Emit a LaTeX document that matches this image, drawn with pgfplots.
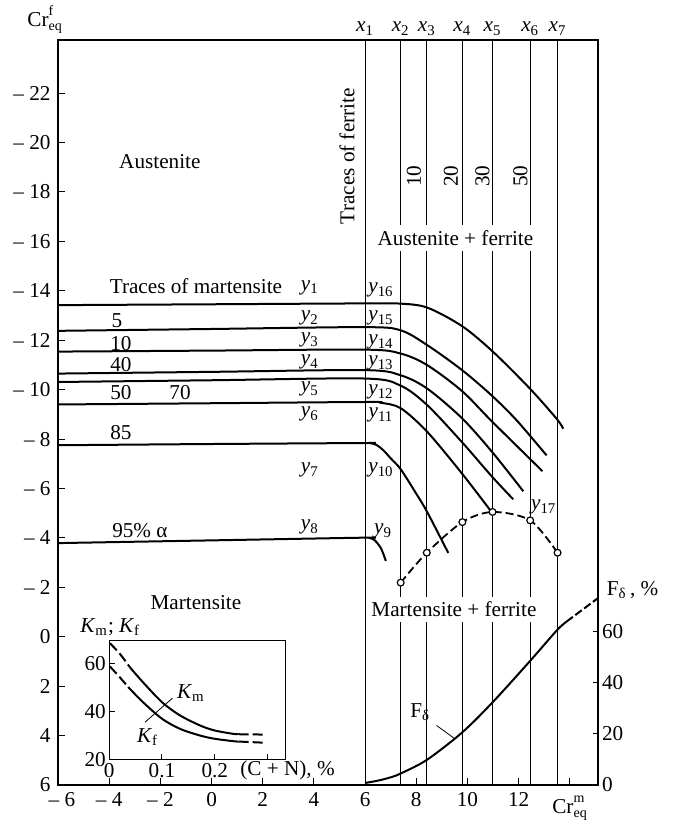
\documentclass[border=0pt]{standalone}
\usepackage{fontspec}
\setmainfont{Liberation Serif}
\usepackage{pgfplots}
\pgfplotsset{compat=1.18}
\newcommand{\mn}{\textendash\ }
\newcommand{\iy}[1]{\textit{y}\textsubscript{#1}}
\newcommand{\ix}[1]{\textit{x}\textsubscript{#1}}
\newcommand{\Creq}[1]{Cr\rlap{\raisebox{5.6pt}{\scriptsize #1}}\raisebox{-2.2pt}{\scriptsize eq}}
\begin{document}
\fontsize{10.6pt}{12.7pt}\selectfont
\begin{tikzpicture}
\useasboundingbox (-29pt,-19.5pt) rectangle (310.5pt,392.5pt);
\begin{axis}[
  at={(0pt,0pt)}, anchor=south west,
  scale only axis, width=270pt, height=372.5pt,
  xmin=-6, xmax=15.1, ymin=-24.15, ymax=6, y dir=reverse,
  axis line style={line width=0.6pt},
  tick align=inside, xtick pos=bottom, ytick pos=left,
  major tick length=3.6pt, tick style={black, line width=0.5pt},
  xtick={-6,-4,-2,0,2,4,6,8,10,12},
  xticklabels={\hspace{4pt}\mn6,\mn4,\mn2,0,2,4,6,8,10,12},
  extra x ticks={14}, extra x tick labels={},
  ytick={-22,-20,-18,-16,-14,-12,-10,-8,-6,-4,-2,0,2,4,6},
  yticklabels={\mn22,\mn20,\mn18,\mn16,\mn14,\mn12,\mn10,\mn8,\mn6,\mn4,\mn2,0,2,4,6},
  clip=false,
]
% vertical lines x1..x7
\addplot[black, line width=0.45pt] coordinates {(6,-24.15) (6,6)};
\addplot[black, line width=0.45pt] coordinates {(7.39,-24.15) (7.39,6)};
\addplot[black, line width=0.45pt] coordinates {(8.41,-24.15) (8.41,6)};
\addplot[black, line width=0.45pt] coordinates {(9.80,-24.15) (9.80,6)};
\addplot[black, line width=0.45pt] coordinates {(10.98,-24.15) (10.98,6)};
\addplot[black, line width=0.45pt] coordinates {(12.45,-24.15) (12.45,6)};
\addplot[black, line width=0.45pt] coordinates {(13.52,-24.15) (13.52,6)};
% curves
\addplot[black, line width=1pt, smooth] coordinates {(-6,-13.42) (0,-13.455) (5.99,-13.49) (7.39,-13.48) (8.43,-13.32) (9.79,-12.57) (11.00,-11.53) (12.46,-10.02) (13.50,-8.80) (13.74,-8.42)};
\addplot[black, line width=1pt, smooth] coordinates {(-6,-12.38) (0,-12.455) (5.99,-12.53) (7.39,-12.40) (8.43,-11.80) (9.79,-10.79) (10.94,-9.77) (11.92,-8.76) (13.09,-7.34)};
\addplot[black, line width=1pt, smooth] coordinates {(-6,-11.54) (0,-11.58) (5.99,-11.62) (7.39,-11.46) (8.43,-10.99) (9.79,-9.94) (10.95,-8.72) (12.93,-6.70)};
\addplot[black, line width=1pt, smooth] coordinates {(-6,-10.65) (0,-10.72) (5.99,-10.79) (7.39,-10.58) (8.43,-10.04) (9.79,-8.84) (10.97,-7.47) (12.18,-5.89)};
\addplot[black, line width=1pt, smooth] coordinates {(-6,-10.31) (0,-10.38) (5.99,-10.45) (7.39,-10.16) (8.43,-9.37) (9.79,-7.87) (10.95,-6.49) (11.79,-5.56)};
\addplot[black, line width=1pt, smooth] coordinates {(-6,-9.40) (0,-9.45) (5.99,-9.50) (6.6,-9.47) (7.39,-9.25) (8.43,-8.29) (9.79,-6.60) (10.94,-5.05)};
\addplot[black, line width=1pt, smooth] coordinates {(-6,-7.75) (0,-7.80) (5.99,-7.84) (6.2,-7.835) (6.45,-7.76) (6.71,-7.55) (7.0,-7.22) (7.39,-6.78) (8.01,-5.77) (8.43,-5.04) (9.25,-3.39)};
\addplot[black, line width=1pt, smooth] coordinates {(-6,-3.79) (0,-3.90) (5.99,-4.01) (6.2,-3.99) (6.38,-3.90) (6.62,-3.58) (6.81,-3.07)};
% y17 dashed with markers
\addplot[black, line width=0.9pt, smooth, dash pattern=on 4pt off 2pt, mark=*, mark size=1.7pt, mark options={solid, fill=white, line width=0.6pt}] coordinates {(7.39,-2.19) (8.41,-3.40) (9.80,-4.64) (10.98,-5.05) (12.45,-4.71) (13.52,-3.40)};
% region labels
\node at (axis cs:-2.02,-19.21) {Austenite};
\node at (axis cs:-0.61,-14.19) {Traces of martensite};
\node at (axis cs:-0.61,-1.39) {Martensite};
\node[rotate=90] at (axis cs:5.29,-19.45) {Traces of ferrite};
\node[rotate=90] at (axis cs:7.91,-18.64) {10};
\node[rotate=90] at (axis cs:9.35,-18.64) {20};
\node[rotate=90] at (axis cs:10.58,-18.64) {30};
\node[rotate=90] at (axis cs:12.07,-18.64) {50};
\node[fill=white, inner xsep=2pt, inner ysep=2.6pt] at (axis cs:9.53,-16.13) {Austenite + ferrite};
\node[fill=white, inner xsep=2pt, inner ysep=2.6pt] at (axis cs:9.47,-1.11) {Martensite + ferrite};
% percent labels left
\node at (axis cs:-3.70,-12.78) {5};
\node at (axis cs:-3.54,-11.88) {10};
\node at (axis cs:-3.54,-11.03) {40};
\node at (axis cs:-3.54,-9.89) {50};
\node at (axis cs:-1.23,-9.89) {70};
\node at (axis cs:-3.54,-8.28) {85};
\node at (axis cs:-2.80,-4.31) {95\% α};
% y labels
\node at (axis cs:3.84,-14.11) {\iy{1}};
\node at (axis cs:3.84,-12.89) {\iy{2}};
\node at (axis cs:3.84,-12.00) {\iy{3}};
\node at (axis cs:3.84,-11.11) {\iy{4}};
\node at (axis cs:3.84,-10.02) {\iy{5}};
\node at (axis cs:3.84,-9.00) {\iy{6}};
\node at (axis cs:3.84,-6.74) {\iy{7}};
\node at (axis cs:3.84,-4.43) {\iy{8}};
\node at (axis cs:6.62,-14.02) {\iy{16}};
\node at (axis cs:6.62,-12.89) {\iy{15}};
\node at (axis cs:6.62,-11.92) {\iy{14}};
\node at (axis cs:6.62,-11.07) {\iy{13}};
\node at (axis cs:6.62,-9.89) {\iy{12}};
\node at (axis cs:6.62,-8.96) {\iy{11}};
\node at (axis cs:6.62,-6.74) {\iy{10}};
\node at (axis cs:6.70,-4.27) {\iy{9}};
\node at (axis cs:12.98,-5.24) {\iy{17}};
% top labels
\node[anchor=base] at (axis cs:6,-24.48) {\ix{1}};
\node[anchor=base] at (axis cs:7.39,-24.48) {\ix{2}};
\node[anchor=base] at (axis cs:8.41,-24.48) {\ix{3}};
\node[anchor=base] at (axis cs:9.80,-24.48) {\ix{4}};
\node[anchor=base] at (axis cs:10.98,-24.48) {\ix{5}};
\node[anchor=base] at (axis cs:12.45,-24.48) {\ix{6}};
\node[anchor=base] at (axis cs:13.52,-24.48) {\ix{7}};
% axis titles
\node[anchor=base west, inner sep=0pt] at (axis cs:-7.21,-24.70) {\Creq{f}};
\node[anchor=base west, inner sep=0pt] at (axis cs:13.30,7.15) {\Creq{m}};
\node[anchor=base west, inner sep=0pt] at (axis cs:15.43,-1.68) {F\textsubscript{δ}\,, \%};
\node[anchor=base west, inner sep=0pt] at (axis cs:7.75,3.25) {F\textsubscript{δ}};
\draw[line width=0.4pt] (axis cs:8.79,3.59) -- (axis cs:9.51,4.13);
\node[anchor=base west, inner sep=0pt] at (axis cs:-5.14,-0.19) {\textit{K}\textsubscript{m}; \textit{K}\textsubscript{f}};
\node[anchor=base west, inner sep=0pt] at (axis cs:1.11,5.61) {(C + N), \%};
\coordinate (insetSW) at (axis cs:-4,4.98);
\end{axis}
% F delta axis
\begin{axis}[
  at={(0pt,0pt)}, anchor=south west,
  scale only axis, width=270pt, height=372.5pt,
  xmin=-6, xmax=15.1, ymin=0, ymax=291,
  hide x axis, axis y line*=right, axis line style={line width=0.6pt, -},
  tick align=inside, major tick length=2.5pt, tick style={black, line width=0.5pt},
  ytick={0,20,40,60}, yticklabels={0,20,40,60},
  yticklabel style={inner sep=1.8pt},
  clip=false,
]
\addplot[black, line width=1pt, smooth] coordinates {(6,0.8) (6.5,1.7) (7.0,3.0) (7.39,4.5) (8.41,9.8) (9.79,20.5) (11.0,32.5) (12.45,48.5) (13.5,60.5) (13.87,63.8)};
\addplot[black, line width=1pt, smooth, dash pattern=on 4pt off 1.5pt] coordinates {(13.87,63.8) (14.39,67.7) (15.1,73)};
\end{axis}
% inset
\begin{axis}[
  at={(insetSW)}, anchor=south west,
  scale only axis, width=88.2pt, height=59.65pt,
  xmin=0, xmax=0.334, ymin=20, ymax=69.7,
  axis line style={line width=0.6pt},
  axis background/.style={fill=white},
  tick align=inside, xtick pos=bottom, ytick pos=left,
  major tick length=3pt, tick style={black, line width=0.5pt},
  xtick={0,0.1,0.2}, xticklabels={0,0.1,0.2},
  extra x ticks={0.3}, extra x tick labels={},
  ytick={20,40,60}, yticklabels={20,40,60},
  xticklabel style={inner sep=1.8pt}, yticklabel style={inner sep=1.5pt},
  clip=false,
]
\addplot[black, line width=1pt, smooth, dash pattern=on 5pt off 2pt] coordinates {(0.0013,68.6) (0.020,64.2) (0.039,58.6)};
\addplot[black, line width=1pt, smooth] coordinates {(0.039,58.6) (0.064,52.3) (0.100,44.0) (0.134,38.5) (0.172,34.3) (0.200,32.2) (0.235,30.8) (0.245,30.65)};
\addplot[black, line width=1pt, dash pattern=on 5pt off 2pt] coordinates {(0.245,30.65) (0.295,30.5)};
\addplot[black, line width=1pt, smooth, dash pattern=on 5pt off 2pt] coordinates {(0.0013,58.9) (0.020,54.4) (0.036,50.3)};
\addplot[black, line width=1pt, smooth] coordinates {(0.036,50.3) (0.064,44.0) (0.100,37.1) (0.134,32.9) (0.172,30.1) (0.200,28.75) (0.235,27.75) (0.245,27.6)};
\addplot[black, line width=1pt, dash pattern=on 5pt off 2pt] coordinates {(0.245,27.6) (0.295,27.1)};
\node[anchor=base west, inner sep=0pt] at (axis cs:0.1277,45.7) {\textit{K}\textsubscript{m}};
\node[anchor=base west, inner sep=0pt] at (axis cs:0.052,27.3) {\textit{K}\textsubscript{f}};
\draw[line width=0.4pt] (axis cs:0.120,45.7) -- (axis cs:0.068,35.7);
\end{axis}
\end{tikzpicture}
\end{document}
